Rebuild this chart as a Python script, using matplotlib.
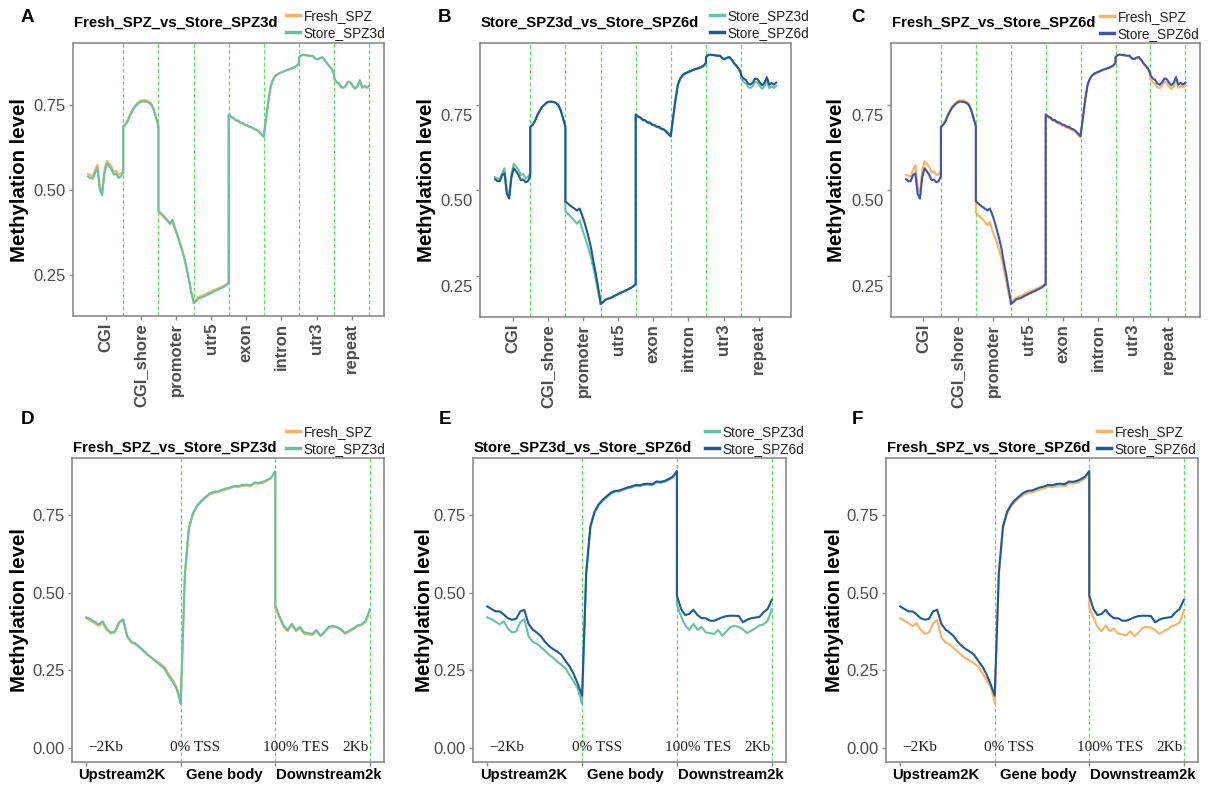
import numpy as np
import matplotlib
matplotlib.use('Agg')
import matplotlib.pyplot as plt
from matplotlib.lines import Line2D
import matplotlib.transforms as mtransforms

plt.rcParams['font.family'] = ['Liberation Sans', 'DejaVu Sans']

# ---------------- data ----------------
regions = ["CGI", "CGI_shore", "promoter", "utr5", "exon", "intron", "utr3", "repeat"]

# feature profiles: 16 bins per region, regions in order above
fresh_feature = [
    0.546, 0.543, 0.540, 0.560, 0.574, 0.510, 0.495, 0.560, 0.585, 0.578, 0.568, 0.553, 0.556, 0.545, 0.548, 0.557,
    0.688, 0.695, 0.707, 0.724, 0.737, 0.748, 0.755, 0.761, 0.764, 0.764, 0.763, 0.760, 0.754, 0.738, 0.715, 0.690,
    0.436, 0.428, 0.421, 0.414, 0.407, 0.398, 0.407, 0.385, 0.366, 0.345, 0.325, 0.300, 0.270, 0.235, 0.200, 0.172,
    0.168, 0.176, 0.185, 0.188, 0.190, 0.193, 0.197, 0.200, 0.203, 0.206, 0.209, 0.212, 0.215, 0.218, 0.222, 0.228,
    0.720, 0.714, 0.710, 0.704, 0.702, 0.697, 0.695, 0.690, 0.688, 0.684, 0.682, 0.678, 0.675, 0.670, 0.662, 0.655,
    0.658, 0.710, 0.763, 0.806, 0.825, 0.835, 0.840, 0.844, 0.847, 0.850, 0.853, 0.855, 0.858, 0.861, 0.865, 0.872,
    0.890, 0.896, 0.897, 0.896, 0.895, 0.894, 0.893, 0.886, 0.884, 0.888, 0.889, 0.882, 0.871, 0.863, 0.855, 0.838,
    0.826, 0.816, 0.812, 0.802, 0.800, 0.808, 0.819, 0.815, 0.804, 0.797, 0.805, 0.823, 0.801, 0.806, 0.802, 0.807,
]
store3d_feature = [
    0.539, 0.535, 0.533, 0.550, 0.565, 0.500, 0.485, 0.550, 0.578, 0.570, 0.560, 0.545, 0.548, 0.535, 0.540, 0.550,
    0.686, 0.692, 0.703, 0.720, 0.733, 0.744, 0.751, 0.757, 0.760, 0.760, 0.759, 0.756, 0.750, 0.735, 0.712, 0.688,
    0.438, 0.432, 0.425, 0.418, 0.410, 0.402, 0.412, 0.390, 0.370, 0.348, 0.327, 0.302, 0.272, 0.237, 0.200, 0.172,
    0.167, 0.172, 0.180, 0.183, 0.185, 0.188, 0.192, 0.195, 0.198, 0.202, 0.205, 0.208, 0.212, 0.215, 0.220, 0.226,
    0.721, 0.715, 0.712, 0.705, 0.704, 0.698, 0.697, 0.691, 0.690, 0.685, 0.684, 0.679, 0.677, 0.671, 0.664, 0.657,
    0.660, 0.712, 0.765, 0.808, 0.826, 0.836, 0.841, 0.844, 0.847, 0.850, 0.853, 0.855, 0.857, 0.860, 0.864, 0.872,
    0.890, 0.896, 0.897, 0.896, 0.895, 0.894, 0.894, 0.886, 0.884, 0.888, 0.890, 0.882, 0.872, 0.864, 0.856, 0.840,
    0.830, 0.818, 0.814, 0.803, 0.800, 0.806, 0.818, 0.816, 0.806, 0.798, 0.806, 0.822, 0.800, 0.805, 0.800, 0.806,
]
store6d_feature = [
    0.533, 0.527, 0.527, 0.545, 0.550, 0.490, 0.476, 0.540, 0.565, 0.556, 0.545, 0.530, 0.532, 0.524, 0.527, 0.542,
    0.686, 0.692, 0.703, 0.720, 0.733, 0.744, 0.751, 0.757, 0.760, 0.760, 0.759, 0.756, 0.750, 0.735, 0.712, 0.688,
    0.468, 0.462, 0.456, 0.451, 0.446, 0.441, 0.447, 0.430, 0.410, 0.385, 0.360, 0.330, 0.290, 0.255, 0.215, 0.175,
    0.167, 0.172, 0.179, 0.182, 0.184, 0.187, 0.191, 0.194, 0.198, 0.201, 0.204, 0.207, 0.211, 0.214, 0.219, 0.225,
    0.723, 0.717, 0.714, 0.707, 0.706, 0.700, 0.699, 0.693, 0.692, 0.687, 0.686, 0.681, 0.679, 0.673, 0.666, 0.659,
    0.662, 0.714, 0.767, 0.810, 0.828, 0.838, 0.843, 0.846, 0.849, 0.852, 0.855, 0.857, 0.859, 0.862, 0.866, 0.874,
    0.891, 0.897, 0.898, 0.897, 0.896, 0.895, 0.895, 0.887, 0.885, 0.889, 0.891, 0.883, 0.873, 0.865, 0.857, 0.842,
    0.838, 0.828, 0.824, 0.813, 0.810, 0.816, 0.828, 0.826, 0.816, 0.808, 0.816, 0.832, 0.810, 0.815, 0.810, 0.816,
]

# gene profiles: Upstream2K | Gene body | Downstream2k, 24 bins each
fresh_gene = [
    0.418, 0.410, 0.402, 0.393, 0.402, 0.380, 0.368, 0.372, 0.402, 0.412, 0.357, 0.340,
    0.334, 0.322, 0.310, 0.298, 0.288, 0.280, 0.272, 0.262, 0.240, 0.220, 0.196, 0.150,
    0.142, 0.555, 0.707, 0.755, 0.779, 0.794, 0.806, 0.817, 0.822, 0.824, 0.829, 0.833,
    0.837, 0.842, 0.841, 0.845, 0.846, 0.844, 0.853, 0.852, 0.855, 0.861, 0.870, 0.890,
    0.452, 0.420, 0.390, 0.376, 0.395, 0.376, 0.385, 0.368, 0.366, 0.363, 0.376, 0.360,
    0.372, 0.387, 0.390, 0.388, 0.380, 0.368, 0.375, 0.382, 0.392, 0.396, 0.405, 0.442,
]
store3d_gene = [
    0.421, 0.415, 0.407, 0.398, 0.408, 0.385, 0.372, 0.375, 0.405, 0.415, 0.360, 0.342,
    0.336, 0.325, 0.313, 0.300, 0.290, 0.278, 0.267, 0.256, 0.233, 0.214, 0.190, 0.142,
    0.145, 0.560, 0.710, 0.758, 0.782, 0.797, 0.809, 0.820, 0.826, 0.827, 0.832, 0.837,
    0.840, 0.845, 0.844, 0.848, 0.849, 0.847, 0.856, 0.855, 0.858, 0.864, 0.872, 0.892,
    0.460, 0.425, 0.395, 0.380, 0.400, 0.380, 0.390, 0.372, 0.370, 0.367, 0.380, 0.362,
    0.375, 0.390, 0.393, 0.390, 0.382, 0.370, 0.378, 0.385, 0.395, 0.398, 0.410, 0.447,
]
store6d_gene = [
    0.456, 0.448, 0.440, 0.440, 0.430, 0.418, 0.413, 0.416, 0.440, 0.445, 0.400, 0.382,
    0.372, 0.360, 0.342, 0.328, 0.318, 0.310, 0.300, 0.280, 0.262, 0.237, 0.205, 0.168,
    0.168, 0.565, 0.714, 0.761, 0.785, 0.800, 0.812, 0.823, 0.829, 0.830, 0.835, 0.840,
    0.843, 0.848, 0.847, 0.851, 0.852, 0.850, 0.859, 0.858, 0.861, 0.867, 0.875, 0.893,
    0.491, 0.448, 0.428, 0.432, 0.445, 0.428, 0.418, 0.418, 0.410, 0.410, 0.415, 0.421,
    0.425, 0.426, 0.426, 0.425, 0.405, 0.413, 0.418, 0.420, 0.422, 0.437, 0.448, 0.477,
]

gene_sections = ["Upstream2K", "Gene body", "Downstream2k"]
gene_marks = ["\u22122Kb", "0% TSS", "100% TES", "2Kb"]

# ---------------- styling ----------------
C_FRESH = "#F9B266"
C_3D = "#66C2A5"
C_6D = "#1F5A96"
C_6D_C = "#3F55A8"
GRID_GREEN = "#5BE05B"
FRAME = "#8C8C8C"
TICKTXT = "#4D4D4D"

W, H = 1209, 785
fig = plt.figure(figsize=(W / 100, H / 100), dpi=100)


def fx(x):
    return x / W


def fy(y):
    return 1 - y / H


def make_axes(l, r, t, b):
    return fig.add_axes([fx(l), fy(b), (r - l) / W, (b - t) / H])


N_TOP = 16
x_top = np.concatenate([np.linspace(i - 0.5, i + 0.5, N_TOP) for i in range(len(regions))])
N_GENE = 24
x_gene = np.concatenate([np.linspace(j, j + 1, N_GENE) for j in range(3)])

series_feature = {"Fresh_SPZ": fresh_feature, "Store_SPZ3d": store3d_feature, "Store_SPZ6d": store6d_feature}
series_gene = {"Fresh_SPZ": fresh_gene, "Store_SPZ3d": store3d_gene, "Store_SPZ6d": store6d_gene}

titles = {"A": "Fresh_SPZ_vs_Store_SPZ3d", "B": "Store_SPZ3d_vs_Store_SPZ6d", "C": "Fresh_SPZ_vs_Store_SPZ6d",
          "D": "Fresh_SPZ_vs_Store_SPZ3d", "E": "Store_SPZ3d_vs_Store_SPZ6d", "F": "Fresh_SPZ_vs_Store_SPZ6d"}

panels = [
    # letter, kind, names, colors, rect(l,r,t,b), letter pos, legend (handle x, row1 y), ylabel x, tick-label shift, last line
    ("A", "top", ("Fresh_SPZ", "Store_SPZ3d"), (C_FRESH, C_3D), (73, 384, 43, 316), (27, 18), (286, 16), 20, 0, True),
    ("B", "top", ("Store_SPZ3d", "Store_SPZ6d"), (C_3D, C_6D), (480, 791, 43, 317), (445, 18), (710, 16), 427, 10, False),
    ("C", "top", ("Fresh_SPZ", "Store_SPZ6d"), (C_FRESH, C_6D_C), (891, 1200, 43, 317), (858, 18), (1100, 17), 837, 10, True),
    ("D", "bot", ("Fresh_SPZ", "Store_SPZ3d"), (C_FRESH, C_3D), (72, 384, 458, 762), (27, 419), (286, 432), 20, 0, True),
    ("E", "bot", ("Store_SPZ3d", "Store_SPZ6d"), (C_3D, C_6D), (473, 786, 458, 762), (445, 420), (705, 432), 425, 0, True),
    ("F", "bot", ("Fresh_SPZ", "Store_SPZ6d"), (C_FRESH, C_6D), (886, 1198, 458, 762), (857, 420), (1097, 432), 835, 0, True),
]

for letter, kind, names, cols, rect, lpos, legpos, ylab_x, shift, lastline in panels:
    l, r, t, b = rect
    ax = make_axes(l, r, t, b)
    for sp in ax.spines.values():
        sp.set_color(FRAME)
        sp.set_linewidth(1.2)

    if kind == "top":
        data = series_feature
        xs = x_top
        bounds = [i + 0.5 for i in range(len(regions))]
        if not lastline:
            bounds = bounds[:-1]
        for bx in bounds:
            ax.axvline(bx, color=GRID_GREEN, lw=0.9, ls=(0, (3, 2)), zorder=1)
        ax.set_xlim(-0.93, 7.92)
        ax.set_ylim(0.129, 0.932)
        ax.set_xticks(range(len(regions)))
        ax.set_xticklabels(regions, rotation=90, fontsize=12, fontweight="bold", color=TICKTXT, va="top")
        ax.set_yticks([0.25, 0.50, 0.75])
        ax.set_yticklabels(["0.25", "0.50", "0.75"])
        title_y = 23
    else:
        data = series_gene
        xs = x_gene
        for bx in [1, 2, 3]:
            ax.axvline(bx, color=GRID_GREEN, lw=0.9, ls=(0, (3, 2)), zorder=1)
        ax.set_xlim(-0.15, 3.15)
        ax.set_ylim(-0.046, 0.935)
        ax.set_xticks([0, 1, 2, 3])
        ax.set_xticklabels(["", "", "", ""])
        ax.set_yticks([0.0, 0.25, 0.50, 0.75])
        ax.set_yticklabels(["0.00", "0.25", "0.50", "0.75"])
        title_y = 448
        serif = dict(family=["Liberation Serif", "DejaVu Serif"], fontsize=11, color="#222222", va="center")
        ax.text(0.02, 0.0, gene_marks[0], ha="left", **serif)
        ax.text(0.89, 0.0, gene_marks[1], ha="left", **serif)
        ax.text(1.87, 0.0, gene_marks[2], ha="left", **serif)
        ax.text(2.99, 0.0, gene_marks[3], ha="right", **serif)
        sec_x = [0.38, 1.46, 2.57]
        for sx, s in zip(sec_x, gene_sections):
            ax.text(sx, -13 / (b - t), s, transform=ax.get_xaxis_transform(), ha="center", va="center",
                    fontsize=10.7, fontweight="bold", color="black")

    for nm, c in zip(names, cols):
        ax.plot(xs, data[nm], color=c, lw=1.5, zorder=3, solid_joinstyle="round")

    ax.tick_params(axis="both", length=3, width=1, color=FRAME, labelcolor=TICKTXT, pad=2)
    ax.tick_params(axis="y", labelsize=12)
    ax.set_ylabel("Methylation level", fontsize=14.7, fontweight="bold", color="black", va="center")
    ax.yaxis.set_label_coords(fx(ylab_x), fy((t + b) / 2), transform=fig.transFigure)

    if shift:
        off = mtransforms.ScaledTranslation(0, -shift / 100, fig.dpi_scale_trans)
        for lab in ax.get_yticklabels():
            lab.set_transform(lab.get_transform() + off)

    fig.text(fx(l + 1), fy(title_y), titles[letter], ha="left", va="center", fontsize=10.7, fontweight="bold",
             color="black")
    fig.text(fx(lpos[0]), fy(lpos[1]), letter, ha="center", va="center", fontsize=13.5, fontweight="bold",
             color="black")
    handles = [Line2D([0], [0], color=c, lw=2.5) for c in cols]
    ax.legend(handles, list(names), loc="upper left",
              bbox_to_anchor=(fx(legpos[0]), fy(legpos[1] - 7)), bbox_transform=fig.transFigure,
              frameon=False, fontsize=9.8, handlelength=1.0, handletextpad=0.3, labelspacing=0.2,
              borderpad=0, borderaxespad=0, labelcolor="#222222")

fig.savefig("out.png", dpi=100)
